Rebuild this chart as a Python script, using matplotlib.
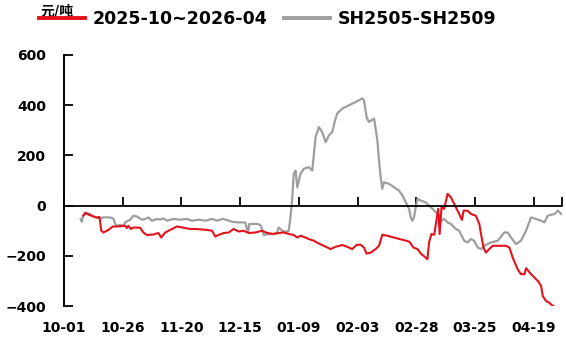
import matplotlib
matplotlib.use("Agg")
import matplotlib.pyplot as plt
import matplotlib.dates as mdates
import pandas as pd

plt.rcParams['font.family'] = ['DejaVu Sans', 'Noto Sans CJK SC']

start_date = "2025-10-01"
end_date = "2026-05-01"
tick_dates = ["2025-10-01", "2025-10-26", "2025-11-20", "2025-12-15", "2026-01-09",
              "2026-02-03", "2026-02-28", "2026-03-25", "2026-04-19"]
yticks = [-400, -200, 0, 200, 400, 600]

red_label = "2025-10~2026-04"
gray_label = "SH2505-SH2509"
unit = "元/吨"

# day offsets from 2025-10-01
red_days = [8.2, 9.0, 10.8, 12.5, 14.0, 15.1, 15.9, 16.8, 18.9, 20.8, 23.2, 26.0, 26.8, 27.4, 28.5,
            29.6, 32.4, 33.8, 35.3, 38.1, 40.2, 41.4, 43.1, 45.2, 48.1, 50.9, 53.8, 55.9, 60.2, 63.0,
            64.4, 65.8, 68.0, 70.1, 72.2, 74.4, 76.5, 78.6, 81.5, 84.3, 86.5, 89.3, 91.4, 93.6, 95.7,
            97.8, 99.3, 100.7, 102.8, 104.2, 106.4, 108.5, 110.6, 113.5, 115.6, 118.5, 120.6, 122.7,
            124.6, 126.3, 127.7, 128.8, 130.6, 132.7, 134.1, 135.5, 137.7, 141.2, 144.1, 146.9, 148.8,
            150.5, 151.9, 153.6, 154.7, 155.4, 156.4, 157.6, 158.3, 159.3, 159.9, 160.7, 161.8, 163.3,
            164.7, 166.1, 168.2, 169.4, 170.1, 171.8, 173.2, 175.3, 176.8, 177.5, 178.6, 179.6, 181.0,
            182.5, 184.6, 188.1, 189.6, 191.0, 193.1, 194.5, 196.0, 196.7, 198.8, 201.7, 203.1, 203.8,
            205.2, 206.6, 208.1, 209.5, 210.9]
red_vals = [-40, -29, -37, -43, -48, -45, -100, -107, -97, -83, -83, -80, -89, -80, -93,
            -87, -88, -107, -117, -115, -109, -127, -107, -97, -83, -88, -93, -93, -96, -100,
            -123, -117, -109, -107, -93, -103, -100, -109, -107, -100, -109, -113, -109, -107, -113,
            -117, -127, -120, -127, -133, -140, -151, -160, -173, -164, -157, -164, -173,
            -156, -156, -167, -191, -187, -173, -160, -116, -120, -129, -136, -143, -167,
            -173, -191, -204, -213, -147, -113, -116, -73, -13, -113, -7, -13, 47,
            33, 7, -33, -57, -20, -20, -33, -40, -73, -113, -167, -187, -173,
            -160, -160, -160, -167, -207, -253, -273, -273, -249, -273, -300, -320, -360,
            -380, -387, -400, -404, -413]

gray_days = [7.1, 7.6, 8.2, 9.7, 11.1, 12.5, 14.0, 15.4, 16.8, 19.6, 21.0, 21.8, 22.5, 23.9, 25.3,
             26.0, 28.2, 29.6, 31.0, 33.2, 34.6, 36.0, 37.4, 39.6, 41.0, 42.4, 43.8, 46.6, 49.5, 52.4,
             54.5, 57.3, 60.2, 63.0, 65.2, 67.3, 69.4, 71.5, 74.4, 77.2, 77.9, 78.4, 78.9, 80.1, 82.2,
             83.6, 84.3, 85.0, 87.2, 89.3, 90.7, 91.4, 92.9, 94.3, 95.7, 96.4, 97.1, 97.8, 98.6, 99.3,
             100.0, 100.7, 102.1, 104.2, 105.7, 106.4, 107.1, 108.5, 109.9, 111.4, 112.8, 114.2, 115.2,
             116.3, 118.5, 121.3, 124.2, 127.0, 127.7, 128.8, 129.8, 132.0, 133.4, 134.1, 134.8, 135.5,
             136.2, 138.4, 140.5, 142.6, 144.1, 145.5, 146.9, 147.6, 148.3, 149.0, 149.7, 150.5, 151.9,
             154.0, 155.4, 156.9, 158.3, 159.7, 160.7, 161.8, 163.3, 164.7, 166.8, 168.2, 168.9, 170.4,
             171.8, 173.2, 174.6, 176.1, 177.5, 178.9, 180.3, 181.7, 184.6, 187.4, 188.9, 190.3, 192.4,
             194.5, 196.7, 198.8, 200.9, 203.1, 204.5, 205.9, 208.8, 210.2, 211.6]
gray_vals = [-53, -64, -40, -29, -33, -43, -47, -51, -47, -47, -51, -73, -80, -77, -80,
             -67, -56, -40, -43, -56, -53, -47, -60, -53, -56, -51, -60, -53, -56, -53,
             -60, -56, -60, -53, -60, -53, -57, -64, -67, -67, -93, -104, -73, -73, -73,
             -77, -93, -117, -113, -113, -107, -87, -100, -104, -100, -47, 20, 127, 140, 73,
             100, 127, 147, 153, 140, 207, 273, 313, 293, 253, 280, 293, 333,
             367, 387, 400, 413, 427, 420, 353, 333, 347, 260, 180, 113, 67,
             93, 87, 73, 60, 40, 13, -13, -47, -60, -47, -7, 27, 20,
             13, 0, -13, -27, -40, -60, -53, -67, -73, -93, -100, -113, -140,
             -147, -133, -140, -167, -173, -160, -153, -147, -140, -107, -107, -127, -153,
             -140, -100, -47, -53, -60, -67, -40, -33, -20, -33]

base = pd.Timestamp(start_date)
red_x = base + pd.to_timedelta(red_days, unit="D")
gray_x = base + pd.to_timedelta(gray_days, unit="D")
ticks = pd.to_datetime(tick_dates)

fig = plt.figure(figsize=(5.66, 3.47), dpi=100)
ax = fig.add_axes([0.113, 0.118, 0.880, 0.7235])

gray_line, = ax.plot(gray_x, gray_vals, color="#9E9E9E", lw=1.6, label=gray_label)
red_line, = ax.plot(red_x, red_vals, color="#E3121B", lw=1.5, label=red_label)

ax.set_xlim(base, pd.Timestamp(end_date))
ax.set_ylim(-400, 600)
ax.set_yticks(yticks)
ax.tick_params(axis="y", direction="in", length=6.5, width=1.3, labelsize=10, pad=13)
for lab in ax.get_yticklabels():
    lab.set_fontweight("bold")

for s in ["top", "right"]:
    ax.spines[s].set_visible(False)
ax.spines["left"].set_linewidth(1.4)
ax.spines["bottom"].set_position(("data", 0))
ax.spines["bottom"].set_linewidth(1.3)
ax.set_xticks(ticks)
ax.set_xticks([pd.Timestamp(end_date)], minor=True)
ax.tick_params(axis="x", which="both", direction="in", length=6.5, width=1.3, labelbottom=False)

sec = ax.secondary_xaxis(0)
sec.set_xticks(ticks)
sec.xaxis.set_major_formatter(mdates.DateFormatter("%m-%d"))
sec.tick_params(length=0, labelsize=10, pad=11)
sec.spines["bottom"].set_visible(False)
for lab in sec.get_xticklabels():
    lab.set_fontweight("bold")

leg = fig.legend(handles=[red_line, gray_line], loc="center left",
                 bbox_to_anchor=(0.042, 0.945), ncol=2, frameon=False,
                 prop={"size": 12.5, "weight": "bold"},
                 handlelength=2.6, handletextpad=0.45, columnspacing=1.0)
for h in leg.legend_handles:
    h.set_linewidth(2.8)

fig.text(0.101, 0.968, unit, fontsize=10, fontweight="bold", ha="center", va="center",
         family=["Noto Sans CJK SC", "DejaVu Sans"])

fig.savefig("out.png", dpi=100)
